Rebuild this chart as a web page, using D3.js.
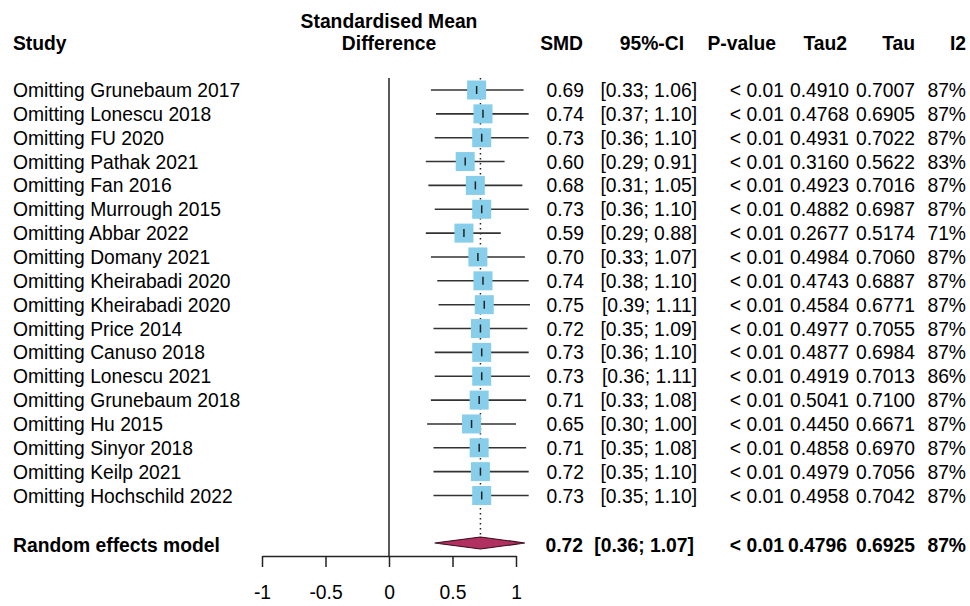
<!DOCTYPE html>
<html>
<head>
<meta charset="utf-8">
<script src="https://cdn.jsdelivr.net/npm/d3@7"></script>
<style>
  html, body { margin: 0; padding: 0; background: #fff; }
  svg { display: block; }
  text { font-family: "Liberation Sans", Arial, sans-serif; fill: #000; }
</style>
</head>
<body>
<svg id="chart" width="970" height="606"></svg>
<script>
// Leave-one-out sensitivity analysis (standardised mean difference)
const studies = [
  "Omitting Grunebaum 2017", "Omitting Lonescu 2018", "Omitting FU 2020",
  "Omitting Pathak 2021", "Omitting Fan 2016", "Omitting Murrough 2015",
  "Omitting Abbar 2022", "Omitting Domany 2021", "Omitting Kheirabadi 2020",
  "Omitting Kheirabadi 2020", "Omitting Price 2014", "Omitting Canuso 2018",
  "Omitting Lonescu 2021", "Omitting Grunebaum 2018", "Omitting Hu 2015",
  "Omitting Sinyor 2018", "Omitting Keilp 2021", "Omitting Hochschild 2022"
];
const smd   = [0.69, 0.74, 0.73, 0.60, 0.68, 0.73, 0.59, 0.70, 0.74, 0.75, 0.72, 0.73, 0.73, 0.71, 0.65, 0.71, 0.72, 0.73];
const ciLow = [0.33, 0.37, 0.36, 0.29, 0.31, 0.36, 0.29, 0.33, 0.38, 0.39, 0.35, 0.36, 0.36, 0.33, 0.30, 0.35, 0.35, 0.35];
const ciHigh = [1.06, 1.10, 1.10, 0.91, 1.05, 1.10, 0.88, 1.07, 1.10, 1.11, 1.09, 1.10, 1.11, 1.08, 1.00, 1.08, 1.10, 1.10];
const pValue = Array(18).fill("< 0.01");
const tau2  = ["0.4910", "0.4768", "0.4931", "0.3160", "0.4923", "0.4882", "0.2677", "0.4984", "0.4743", "0.4584", "0.4977", "0.4877", "0.4919", "0.5041", "0.4450", "0.4858", "0.4979", "0.4958"];
const tau   = ["0.7007", "0.6905", "0.7022", "0.5622", "0.7016", "0.6987", "0.5174", "0.7060", "0.6887", "0.6771", "0.7055", "0.6984", "0.7013", "0.7100", "0.6671", "0.6970", "0.7056", "0.7042"];
const i2    = ["87%", "87%", "87%", "83%", "87%", "87%", "71%", "87%", "87%", "87%", "87%", "87%", "86%", "87%", "87%", "87%", "87%", "87%"];

// Pooled random effects estimate
const pooledLabel = "Random effects model";
const pooled = { smd: 0.72, lo: 0.36, hi: 1.07, p: "< 0.01", tau2: "0.4796", tau: "0.6925", i2: "87%" };

const axisTicks = [-1, -0.5, 0, 0.5, 1];
const headers = ["SMD", "95%-CI", "P-value", "Tau2", "Tau", "I2"];

const FS = 19.3;
const svg = d3.select("#chart");

const x = d3.scaleLinear().domain([-1, 1]).range([262, 516]);
const y = d3.scaleLinear().domain([0, studies.length - 1]).range([90, 495.5]);
const pooledY = 543;
const axisY = 556;
const topY = 78;

const fmt2 = d3.format(".2f");

// headers
svg.append("text").attr("x", 13).attr("y", 50)
  .attr("font-size", FS).attr("font-weight", "bold").text("Study");
svg.append("text").attr("x", x(0)).attr("y", 28).attr("text-anchor", "middle")
  .attr("font-size", FS).attr("font-weight", "bold").text("Standardised Mean");
svg.append("text").attr("x", x(0)).attr("y", 50).attr("text-anchor", "middle")
  .attr("font-size", FS).attr("font-weight", "bold").text("Difference");

const headerRight = [583, 684, 776, 847, 915, 966];
headers.forEach((h, k) => {
  svg.append("text").attr("x", headerRight[k]).attr("y", 50)
    .attr("text-anchor", "end").attr("font-size", FS).attr("font-weight", "bold").text(h);
});

// reference line at zero
svg.append("line")
  .attr("x1", x(0)).attr("x2", x(0)).attr("y1", topY).attr("y2", axisY)
  .attr("stroke", "#222").attr("stroke-width", 1.5);

// dotted line at the pooled estimate
svg.append("line")
  .attr("x1", x(pooled.smd)).attr("x2", x(pooled.smd))
  .attr("y1", topY).attr("y2", pooledY - 6)
  .attr("stroke", "#222").attr("stroke-width", 1.5)
  .attr("stroke-dasharray", "1.5,3.5");

// study rows
const rows = svg.append("g").selectAll("g").data(studies).join("g");
const SQ = 19;

rows.append("line")
  .attr("x1", (d, i) => x(ciLow[i])).attr("x2", (d, i) => x(ciHigh[i]))
  .attr("y1", (d, i) => y(i)).attr("y2", (d, i) => y(i))
  .attr("stroke", "#333").attr("stroke-width", 1.6);

rows.append("rect")
  .attr("x", (d, i) => x(smd[i]) - SQ / 2).attr("y", (d, i) => y(i) - SQ / 2)
  .attr("width", SQ).attr("height", SQ)
  .attr("fill", "#87CEEB");

rows.append("line")
  .attr("x1", (d, i) => x(smd[i])).attr("x2", (d, i) => x(smd[i]))
  .attr("y1", (d, i) => y(i) - 4).attr("y2", (d, i) => y(i) + 4)
  .attr("stroke", "#222").attr("stroke-width", 1.5);

rows.append("text").attr("x", 13).attr("y", (d, i) => y(i) + 7)
  .attr("font-size", FS).text(d => d);

const colRight = [584, 697, 784, 849, 915, 966];
const colText = [
  i => fmt2(smd[i]),
  i => `[${fmt2(ciLow[i])}; ${fmt2(ciHigh[i])}]`,
  i => pValue[i],
  i => tau2[i],
  i => tau[i],
  i => i2[i]
];
colText.forEach((f, k) => {
  rows.append("text").attr("x", colRight[k]).attr("y", (d, i) => y(i) + 7)
    .attr("text-anchor", "end").attr("font-size", FS).text((d, i) => f(i));
});

// pooled diamond
const diamond = [
  [x(pooled.lo), pooledY], [x(pooled.smd), pooledY - 6],
  [x(pooled.hi), pooledY], [x(pooled.smd), pooledY + 6]
];
svg.append("path")
  .attr("d", d3.line()(diamond) + "Z")
  .attr("fill", "#B03060").attr("stroke", "#3a0a1c").attr("stroke-width", 1.2);

svg.append("text").attr("x", 13).attr("y", 552)
  .attr("font-size", FS).attr("font-weight", "bold").text(pooledLabel);

const pooledVals = [
  fmt2(pooled.smd), `[${fmt2(pooled.lo)}; ${fmt2(pooled.hi)}]`,
  pooled.p, pooled.tau2, pooled.tau, pooled.i2
];
const pooledRight = [583, 694, 784, 847, 915, 966];
pooledVals.forEach((v, k) => {
  svg.append("text").attr("x", pooledRight[k]).attr("y", 552)
    .attr("text-anchor", "end").attr("font-size", FS).attr("font-weight", "bold").text(v);
});

// x axis
const axis = d3.axisBottom(x)
  .tickValues(axisTicks)
  .tickSize(11).tickSizeOuter(0).tickPadding(18)
  .tickFormat(d => String(d));
const gAxis = svg.append("g").attr("transform", `translate(0,${axisY})`).call(axis);
gAxis.select(".domain").attr("stroke", "#222").attr("stroke-width", 1.5);
gAxis.selectAll(".tick line").attr("stroke", "#222").attr("stroke-width", 1.5);
gAxis.selectAll(".tick text")
  .attr("font-size", FS).attr("font-family", "'Liberation Sans', Arial, sans-serif")
  .attr("fill", "#000");
</script>
</body>
</html>
